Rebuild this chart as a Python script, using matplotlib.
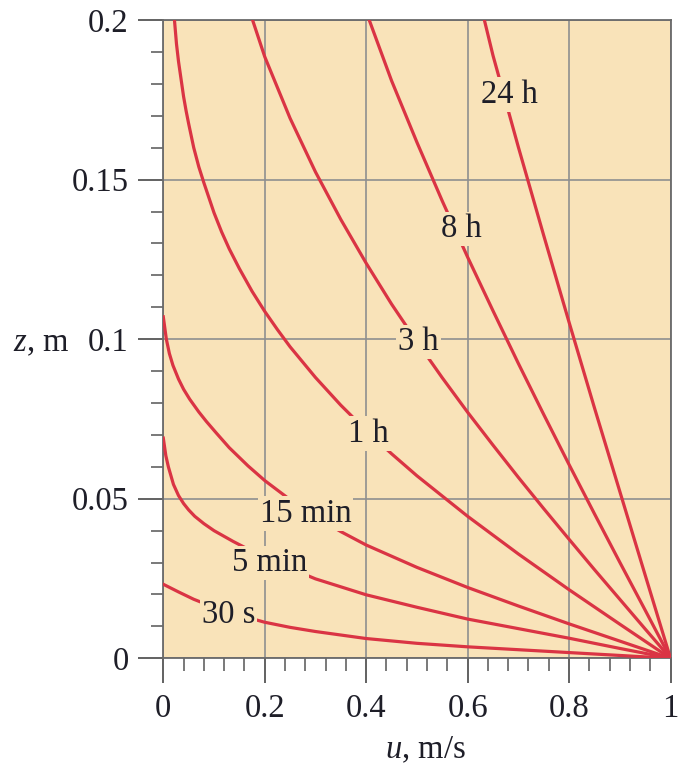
import matplotlib
matplotlib.use('Agg')
import matplotlib.pyplot as plt
from matplotlib.ticker import MultipleLocator

plt.rcParams['font.family'] = 'Liberation Serif'
plt.rcParams['mathtext.fontset'] = 'custom'
plt.rcParams['mathtext.it'] = 'Liberation Serif:italic'
plt.rcParams['mathtext.rm'] = 'Liberation Serif'

# velocity profiles u(z), one per elapsed time
u_30s = [0, 0.03, 0.06, 0.1, 0.15, 0.2, 0.25, 0.3, 0.4, 0.5, 0.6, 0.7, 0.8, 0.9, 1.0]
z_30s = [0.0232, 0.0208, 0.0185, 0.0160, 0.0135, 0.0113, 0.0097, 0.0084, 0.0062,
         0.0047, 0.0036, 0.0027, 0.0018, 0.0009, 0.0]

u_5min = [0, 0.005, 0.01, 0.02, 0.03, 0.04, 0.05, 0.062, 0.08, 0.1, 0.138, 0.2, 0.3,
          0.4, 0.5, 0.6, 0.7, 0.8, 0.9, 1.0]
z_5min = [0.069, 0.0635, 0.0600, 0.0545, 0.0510, 0.0485, 0.0465, 0.0445, 0.0422,
          0.0400, 0.0366, 0.0315, 0.0249, 0.0199, 0.0160, 0.0123, 0.0093, 0.0063,
          0.0031, 0.0]

u_15min = [0, 0.003, 0.006, 0.012, 0.019, 0.03, 0.04, 0.052, 0.07, 0.085, 0.1045,
           0.13, 0.167, 0.2, 0.25, 0.3, 0.35, 0.4, 0.5, 0.6, 0.7, 0.8, 0.9, 1.0]
z_15min = [0.107, 0.1035, 0.1000, 0.0955, 0.0918, 0.0875, 0.0843, 0.0812, 0.0772,
           0.0742, 0.0706, 0.0660, 0.0603, 0.0557, 0.0497, 0.0445, 0.0397, 0.0355,
           0.0285, 0.0222, 0.0164, 0.0108, 0.0054, 0.0]

u_1h = [0.022, 0.026, 0.03, 0.035, 0.04, 0.045, 0.05, 0.06, 0.07, 0.08, 0.09, 0.1,
        0.115, 0.13, 0.15, 0.175, 0.2, 0.225, 0.25, 0.3, 0.35, 0.4, 0.45, 0.5, 0.6,
        0.7, 0.8, 0.9, 1.0]
z_1h = [0.200, 0.1925, 0.1870, 0.1815, 0.1760, 0.1715, 0.1675, 0.1600, 0.1540,
        0.1490, 0.1443, 0.1396, 0.1336, 0.1283, 0.1221, 0.1150, 0.1087, 0.1030,
        0.0976, 0.0880, 0.0793, 0.0714, 0.0641, 0.0572, 0.0445, 0.0327, 0.0215,
        0.0107, 0.0]

u_3h = [0.176, 0.2, 0.25, 0.3, 0.35, 0.4, 0.45, 0.5, 0.55, 0.6, 0.65, 0.7, 0.75, 0.8,
        0.85, 0.9, 0.95, 1.0]
z_3h = [0.200, 0.1885, 0.1692, 0.1524, 0.1375, 0.1238, 0.1110, 0.0992, 0.0879,
        0.0771, 0.0668, 0.0567, 0.0469, 0.0373, 0.0278, 0.0185, 0.0092, 0.0]

u_8h = [0.406, 0.45, 0.5, 0.55, 0.6, 0.65, 0.7, 0.75, 0.8, 0.85, 0.9, 0.95, 1.0]
z_8h = [0.200, 0.1810, 0.1617, 0.1433, 0.1257, 0.1089, 0.0924, 0.0764, 0.0607,
        0.0453, 0.0301, 0.0151, 0.0]

u_24h = [0.633, 0.65, 0.7, 0.75, 0.8, 0.85, 0.9, 0.95, 1.0]
z_24h = [0.200, 0.1889, 0.1602, 0.1325, 0.1053, 0.0785, 0.0523, 0.0261, 0.0]

curve_names = ['30 s', '5 min', '15 min', '1 h', '3 h', '8 h', '24 h']

x_ticks = [0, 0.2, 0.4, 0.6, 0.8, 1.0]
x_ticklabels = ['0', '0.2', '0.4', '0.6', '0.8', '1']
y_ticks = [0, 0.05, 0.1, 0.15, 0.2]
y_ticklabels = ['0', '0.05', '0.1', '0.15', '0.2']

bg = '#F9E3B9'
red = '#DA3444'
grey = '#8F8F8F'
ink = '#1e1e28'

fig = plt.figure(figsize=(6.79, 7.67), dpi=100)
ax = fig.add_axes([0.2405, 0.1417, 0.747, 0.8322])
ax.set_facecolor(bg)

curves = [(u_30s, z_30s), (u_5min, z_5min), (u_15min, z_15min), (u_1h, z_1h),
          (u_3h, z_3h), (u_8h, z_8h), (u_24h, z_24h)]
for u, z in curves:
    ax.plot(u, z, color=red, lw=2.3, zorder=3, solid_joinstyle='round')

# where each time label sits on its curve
label_pos = [(0.128, 0.0138), (0.210, 0.0299), (0.280, 0.0454), (0.404, 0.0705),
             (0.503, 0.0991), (0.587, 0.1345), (0.682, 0.1766)]
for name, (x, y) in zip(curve_names, label_pos):
    ax.text(x, y, name, ha='center', va='center', fontsize=23.5, color=ink,
            zorder=4, bbox=dict(boxstyle='square,pad=0.06', fc=bg, ec='none'))

ax.set_xlim(0, 1)
ax.set_ylim(0, 0.2)
ax.set_xticks(x_ticks)
ax.set_xticklabels(x_ticklabels)
ax.set_yticks(y_ticks)
ax.set_yticklabels(y_ticklabels)
ax.xaxis.set_minor_locator(MultipleLocator(0.04))
ax.yaxis.set_minor_locator(MultipleLocator(0.01))

ax.grid(True, which='major', color=grey, lw=1.2)
ax.set_axisbelow(True)
ax.tick_params(which='major', direction='out', length=18, width=1.3, color='#555555',
               pad=7, labelsize=23.5, labelcolor=ink)
ax.tick_params(which='minor', direction='out', length=9, width=1.1, color='#555555')
for s in ax.spines.values():
    s.set_color('#6a6a6a')
    s.set_linewidth(1.3)

fig.text(0.061, 0.553, r'$z$, m', ha='center', va='center', fontsize=23.5, color=ink)
fig.text(0.626, 0.022, r'$u$, m/s', ha='center', va='center', fontsize=23.5, color=ink)

fig.savefig('out.png', dpi=100)
